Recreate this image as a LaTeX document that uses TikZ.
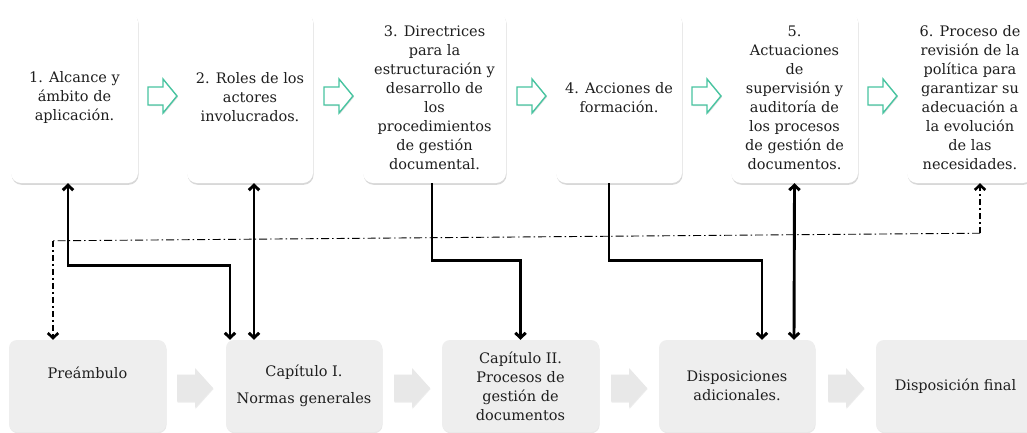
\documentclass[tikz,border=0pt]{standalone}
\usepackage{fontspec}
\setmainfont{DejaVu Serif}
\usetikzlibrary{arrows.meta,shadows}
\definecolor{tealgreen}{RGB}{72,196,160}
\definecolor{boxgray}{RGB}{238,238,238}
\definecolor{arrgray}{RGB}{232,232,232}
\definecolor{txt}{RGB}{30,30,30}
\begin{document}
\begin{tikzpicture}[x=1pt,y=-1pt,
  >={Straight Barb[length=5pt,width=10.5pt]},
  lbl/.style={font=\fontsize{14.5}{19}\selectfont, text=txt, align=center, inner sep=0pt},
  topbox/.style={lbl, fill=white, rounded corners=10pt, minimum height=171pt,
     drop shadow={opacity=0.3, shadow xshift=0.6pt, shadow yshift=-1.8pt}},
  botbox/.style={lbl, fill=boxgray, rounded corners=8pt, minimum height=92pt,
     drop shadow={opacity=0.18, shadow xshift=0.5pt, shadow yshift=-1.2pt}},
  conn/.style={line width=2.9pt, black},
  ddthick/.style={line width=2.6pt, black, dash pattern=on 6pt off 3pt on 2pt off 3pt},
  ddthin/.style={line width=0.9pt, black, dash pattern=on 8pt off 3pt on 1.5pt off 3pt},
  garrow/.pic={\draw[tealgreen, line width=1.4pt, fill=white, drop shadow={opacity=0.25, shadow xshift=1pt, shadow yshift=-1pt}]
      (0,-9) -- (15,-9) -- (15,-17) -- (29,0) -- (15,17) -- (15,9) -- (0,9) -- cycle;},
  grarrow/.pic={\fill[arrgray, drop shadow={opacity=0.15, shadow xshift=0.5pt, shadow yshift=-1pt}]
      (0,-13.5) -- (18,-13.5) -- (18,-20) -- (36,0) -- (18,20) -- (18,13.5) -- (0,13.5) -- cycle;}
]
\useasboundingbox (0,0) rectangle (1027,432);
\clip (0,0) rectangle (1027,432);
\fill[white] (0,0) rectangle (1027,432);

% top boxes
\node[topbox, minimum width=127pt] (b1) at (74.5,97.5) {1. Alcance y\\ámbito de\\aplicación.};
\node[topbox, minimum width=126pt] (b2) at (250,97.5) {2. Roles de los\\actores\\involucrados.};
\node[topbox, minimum width=143pt] (b3) at (434.5,97.5) {3. Directrices\\para la\\estructuración y\\desarrollo de\\los\\procedimientos\\de gestión\\documental.};
\node[topbox, minimum width=126pt] (b4) at (619,97.5) {4. Acciones de\\formación.};
\node[topbox, minimum width=127pt] (b5) at (794.5,97.5) {5.\\Actuaciones\\de\\supervisión y\\auditoría de\\los procesos\\de gestión de\\documentos.};
\node[topbox, minimum width=126pt] (b6) at (970,97.5) {6. Proceso de\\revisión de la\\política para\\garantizar su\\adecuación a\\la evolución\\de las\\necesidades.};

% green arrows
\pic (ga1) at (148,96) {garrow};
\pic (ga2) at (324,96) {garrow};
\pic (ga3) at (517,96) {garrow};
\pic (ga4) at (692,96) {garrow};
\pic (ga5) at (868,96) {garrow};

% bottom boxes
\node[botbox, minimum width=157pt] (p) at (87.5,386) {Preámbulo\\[8pt]\mbox{}};
\node[botbox, minimum width=156pt] (c1) at (304,386) {Capítulo I.\\[8pt]Normas generales};
\node[botbox, minimum width=157pt] (c2) at (520.5,386) {Capítulo II.\\Procesos de\\gestión de\\documentos};
\node[botbox, minimum width=156pt] (d) at (737,386) {Disposiciones\\adicionales.};
\node[botbox, minimum width=159pt] (f) at (955.5,386) {Disposición final};

% gray arrows
\pic (gr1) at (177,388) {grarrow};
\pic (gr2) at (394,388) {grarrow};
\pic (gr3) at (611,388) {grarrow};
\pic (gr4) at (828,388) {grarrow};

% connectors
\draw[conn,<->] ([xshift=-6.5pt]b1.south) -- ++(0,82) -| ([xshift=-74pt]c1.north);
\draw[conn,<->] ([xshift=4pt]b2.south) -- ([xshift=-50pt]c1.north);
\draw[conn,->] ([xshift=-2.5pt]b3.south) -- ++(0,77) -| (c2.north);
\draw[conn,->] ([xshift=-10pt]b4.south) -- ++(0,77) -| ([xshift=25pt]d.north);
\draw[conn,<->] (b5.south) -- ([xshift=57pt]d.north);

% dash-dot connector
\coordinate (dd1) at ([xshift=10pt,yshift=-50pt]b6.south);
\coordinate (dd2) at ([xshift=-34.5pt,yshift=99pt]p.north);
\draw[ddthick,->] (dd1) -- ([xshift=10pt]b6.south);
\draw[ddthin] (dd1) -- (dd2);
\draw[ddthick,->] (dd2) -- ([xshift=-34.5pt]p.north);
\end{tikzpicture}
\end{document}
